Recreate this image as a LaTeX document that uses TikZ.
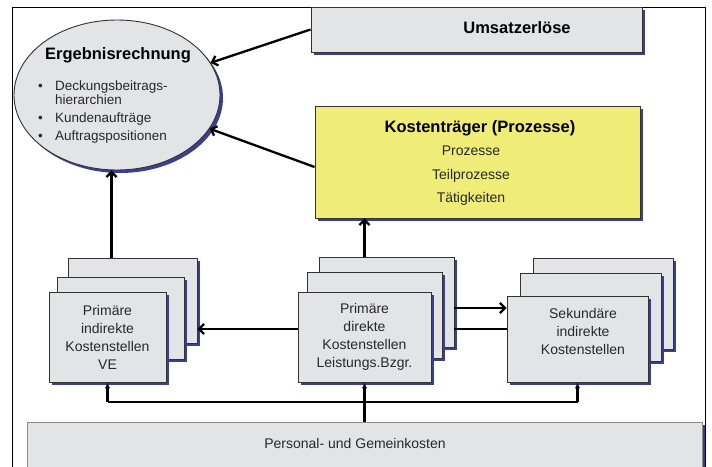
\documentclass[tikz,border=0pt]{standalone}
\usepackage{fontspec}
\setmainfont{Liberation Sans}
\usepackage{tikz}
\usetikzlibrary{shapes.geometric, arrows, arrows.meta, shadows, calc, positioning}

\definecolor{boxgrau}{RGB}{227,228,230}
\definecolor{ktgelb}{RGB}{239,236,120}
\definecolor{schattenblau}{RGB}{58,62,150}
\definecolor{textgrau}{RGB}{40,40,40}

\newcommand{\kstext}{\fontsize{14}{18}\selectfont}
\newcommand{\kstitel}{\fontsize{16.5}{20}\selectfont\bfseries}

\tikzset{
  schatten/.style={drop shadow={shadow xshift=3pt, shadow yshift=-3pt, fill=schattenblau, opacity=1}},
  kasten/.style={draw=black!80, line width=0.9pt, fill=boxgrau, schatten, inner sep=0pt},
  kstelle/.style={kasten, text=textgrau, align=center, font=\kstext},
  pfeil/.style={-{Straight Barb[length=5pt, width=10pt]}, line width=2.3pt},
  verteilung/.style={-{Latex[length=6pt, width=5.5pt]}, line width=2.3pt}
}

\begin{document}
\begin{tikzpicture}[x=1pt, y=-1pt]
\useasboundingbox (0,0) rectangle (712,466);
\draw [line width=1pt] (12,490) -- (12,7) -- (705,7) -- (705,490);

% oben: Ergebnisrechnung, Umsatz, Kostentraeger
\node (erg) [ellipse, draw=black!80, line width=0.9pt, fill=boxgrau, schatten, minimum width=206pt, minimum height=150pt, inner sep=0pt] at (117,95) {};
\node (ergtitel) [font=\kstitel] at (118,55) {Ergebnisrechnung};
\node (ergliste) [anchor=west, inner sep=0pt, align=left, text=textgrau, font=\fontsize{13.5}{14.5}\selectfont] at (38,112)
  {\makebox[17pt][l]{\textbullet}Deckungsbeitrags-\\ \hspace*{17pt}hierarchien\\[3.5pt]
   \makebox[17pt][l]{\textbullet}Kundenaufträge\\[3.5pt]
   \makebox[17pt][l]{\textbullet}Auftragspositionen};

\node (umsatz) [kasten, minimum width=331pt, minimum height=45pt] at (476.5,29.5) {};
\node (umsatztext) [font=\kstitel] at (517,28) {Umsatzerlöse};

\node (kosttr) [kasten, fill=ktgelb, minimum width=325pt, minimum height=112pt] at (477.5,162) {};
\node (kosttrtitel) [font=\kstitel] at (480,128) {Kostenträger (Prozesse)};
\node (kosttrliste) [align=center, text=textgrau, font=\fontsize{14}{23.5}\selectfont] at (471,176) {Prozesse\\Teilprozesse\\Tätigkeiten};

% Kostenstellen
\node (pi3) [kasten, minimum width=129pt, minimum height=85pt] at (132.5,300.5) {};
\node (pi2) [kasten, minimum width=127pt, minimum height=82pt] at (120.5,318) {};
\node (pi1) [kstelle, minimum width=117pt, minimum height=90pt] at (107.5,337) {Primäre\\indirekte\\Kostenstellen\\VE};

\node (pd3) [kasten, minimum width=135pt, minimum height=90pt] at (386.5,302) {};
\node (pd2) [kasten, minimum width=135pt, minimum height=86pt] at (374.5,315) {};
\node (pd1) [kstelle, minimum width=133pt, minimum height=90pt] at (364.5,337) {Primäre\\direkte\\Kostenstellen\\Leistungs.Bzgr.};

\node (sk3) [kasten, minimum width=140pt, minimum height=91pt] at (603,303.5) {};
\node (sk2) [kasten, minimum width=141pt, minimum height=88pt] at (590.5,317) {};
\node (sk1) [kasten, minimum width=141pt, minimum height=86pt] at (577.5,339) {};
\node (sktext) [align=center, text=textgrau, font=\kstext] at (583,331) {Sekundäre\\indirekte\\Kostenstellen};

% unten
\node (pk) [kasten, draw=black!45, minimum width=675pt, minimum height=70pt] at (364.5,457) {};
\node (pktext) [text=textgrau, font=\kstext] at (355,443) {Personal- und Gemeinkosten};
\coordinate (verteil) at (364.5,402);

% Pfeile
\draw [pfeil] (umsatz.west) -- (erg.19);
\draw [pfeil] ([yshift=-5pt]kosttr.west) -- (erg.-20);
\draw [pfeil] ([xshift=-21pt]pi3.north) -- ([xshift=-21pt]pi3.north |- erg.south);
\draw [pfeil] (pd1.center |- pd3.north) -- (pd1.center |- kosttr.south);
\draw [pfeil] ([yshift=8pt]pd1.west) -- ([yshift=8pt]pd1.west -| pi3.east);
\draw [pfeil] ([yshift=-6pt]pd3.east) -- ([yshift=-6pt]pd3.east -| sk1.west);
\draw [line width=2.3pt] ([yshift=-27pt]pd3.east) -- ([yshift=-27pt]pd3.east -| sk1.west);

\draw [verteilung] (verteil |- pk.north) -- (pd1.south);
\draw [line width=2.3pt] (verteil -| pi1.south) -- (verteil -| sk1.south);
\draw [verteilung] (verteil -| pi1.south) -- (pi1.south);
\draw [verteilung] (verteil -| sk1.south) -- (sk1.south);
\end{tikzpicture}
\end{document}
